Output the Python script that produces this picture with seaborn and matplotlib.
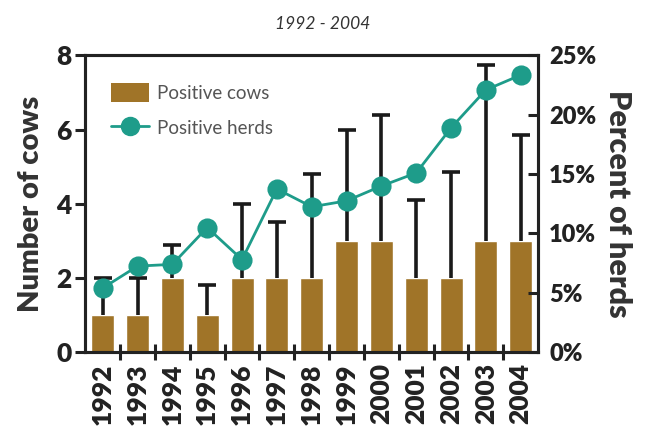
import numpy as np
import pandas as pd
import matplotlib
matplotlib.use("Agg")
import matplotlib.pyplot as plt
import seaborn as sns
from matplotlib.patches import Patch
from matplotlib.lines import Line2D
from matplotlib.ticker import FixedLocator

years = ['1992', '1993', '1994', '1995', '1996', '1997', '1998',
         '1999', '2000', '2001', '2002', '2003', '2004']
positive_cows = [1, 1, 2, 1, 2, 2, 2, 3, 3, 2, 2, 3, 3]
cows_upper = [2.0, 2.0, 2.9, 1.8, 4.0, 3.5, 4.8, 6.0, 6.4, 4.1, 4.85, 7.75, 5.85]
positive_herds = [5.4, 7.25, 7.4, 10.5, 7.8, 13.75, 12.25, 12.75, 14.0, 15.1, 18.9, 22.1, 23.35]

bar_color = '#A07428'
line_color = '#1E9C8A'
text_color = '#333333'

sns.set_theme(style='white')
plt.rcParams['font.family'] = ['Lato', 'DejaVu Sans']
plt.rcParams['text.color'] = text_color
plt.rcParams['axes.labelcolor'] = text_color
plt.rcParams['xtick.color'] = '#222222'
plt.rcParams['ytick.color'] = '#222222'

df = pd.DataFrame({'year': years, 'cows': positive_cows,
                   'upper': cows_upper, 'herds': positive_herds})

fig = plt.figure(figsize=(6.46, 4.30), dpi=100)
ax = fig.add_axes([0.132, 0.181, 0.701, 0.690])

sns.barplot(data=df, x='year', y='cows', color=bar_color, saturation=1,
            width=0.66, errorbar=None, ax=ax, zorder=2)
pos = np.arange(len(years))
eb = ax.errorbar(pos, df['cows'], yerr=[np.zeros(len(years)), df['upper'] - df['cows']],
                 fmt='none', ecolor='#1a1a1a', elinewidth=2.6, capsize=6.5,
                 capthick=2.6, zorder=3)
# keep only the upper caps
eb[1][0].set_visible(False)

ax.set_xlim(-0.5, len(years) - 0.5)
ax.set_ylim(0, 8)
ax.set_yticks([0, 2, 4, 6, 8])
ax.set_xlabel('')
ax.set_ylabel('Number of cows', fontsize=21, fontweight='heavy', labelpad=9)
ax.tick_params(axis='y', labelsize=19, width=2.2, length=7, direction='out', pad=3)
for lab in ax.get_yticklabels():
    lab.set_fontweight('heavy')
ax.tick_params(axis='x', which='major', length=0, labelsize=19, rotation=90, pad=8)
for lab in ax.get_xticklabels():
    lab.set_fontweight('heavy')
ax.xaxis.set_minor_locator(FixedLocator(pos[:-1] + 0.5))
ax.tick_params(axis='x', which='minor', direction='inout', length=12, width=2.2, bottom=True)

ax2 = ax.twinx()
sns.pointplot(data=df, x='year', y='herds', color=line_color, markers='o',
              markersize=13, linewidth=2, ax=ax2)
ax2.set_ylim(0, 25)
ax2.set_yticks([0, 5, 10, 15, 20, 25])
ax2.set_yticklabels([f'{v}%' for v in [0, 5, 10, 15, 20, 25]])
ax2.set_ylabel('Percent of herds', fontsize=22, fontweight='heavy', rotation=-90, labelpad=26)
ax2.tick_params(axis='y', labelsize=17, width=2.2, length=7, direction='in', pad=8)
for lab in ax2.get_yticklabels():
    lab.set_fontweight('heavy')
ax2.set_xlim(-0.5, len(years) - 0.5)

for a in (ax, ax2):
    for s in a.spines.values():
        s.set_color('#222222')
        s.set_linewidth(2.2)

handles = [Patch(facecolor=bar_color, edgecolor='none'),
           Line2D([0], [0], color=line_color, lw=2, marker='o', markersize=13)]
leg = ax2.legend(handles, ['Positive cows', 'Positive herds'], loc='upper left',
                 frameon=False, fontsize=13.5, handlelength=2.0, handleheight=1.2,
                 handletextpad=0.45, labelspacing=0.85, bbox_to_anchor=(0.02, 0.965))
for t in leg.get_texts():
    t.set_color('#555555')

fig.text(0.5, 0.945, '1992 - 2004', ha='center', va='center', fontsize=12.5,
         style='italic', color=text_color)

fig.savefig('out.png', dpi=100)
